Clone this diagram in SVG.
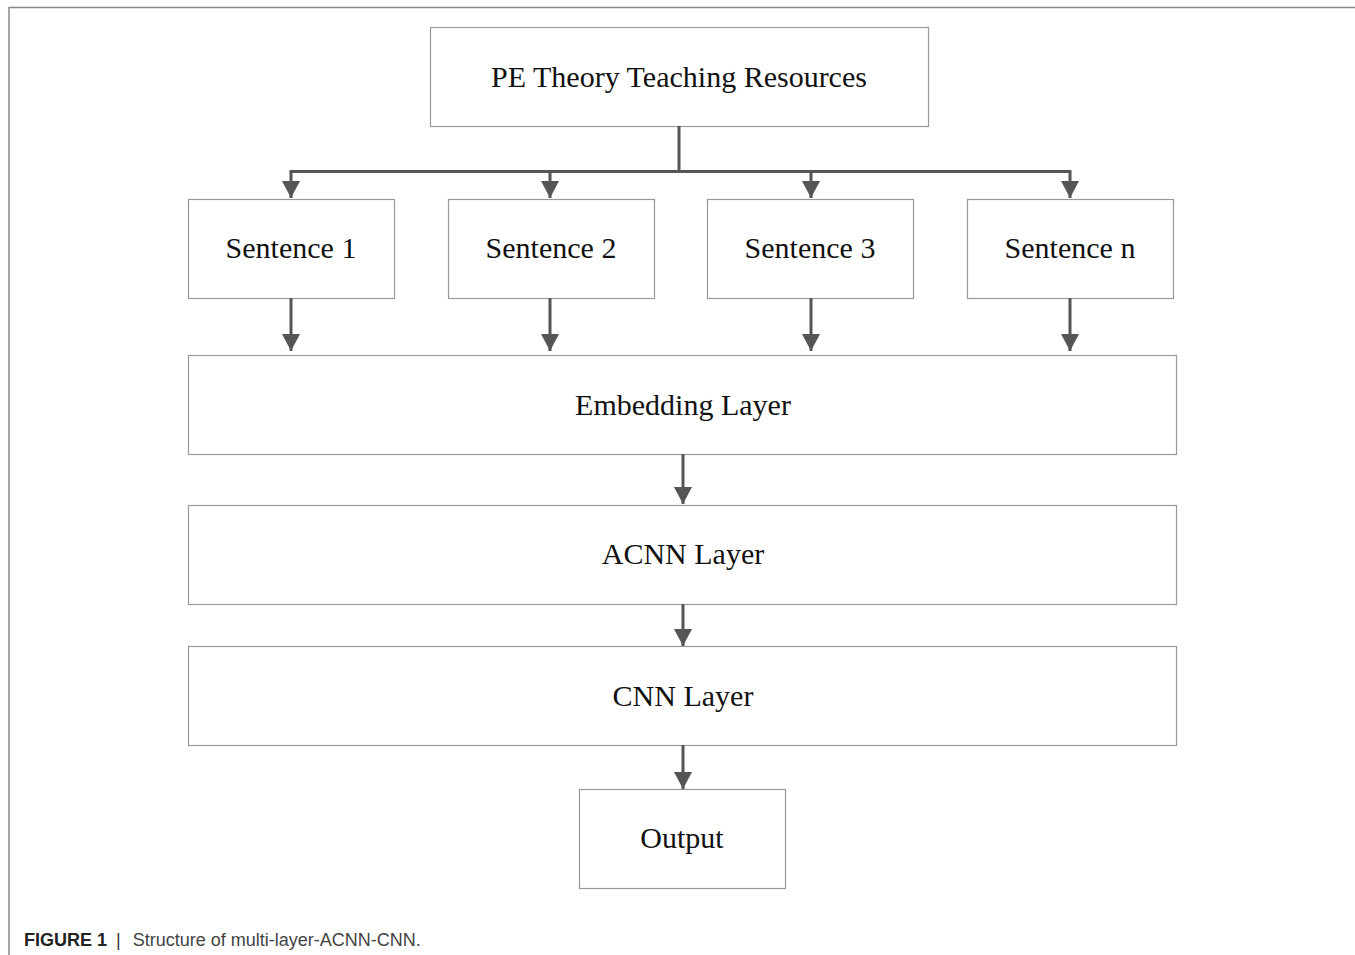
<svg xmlns="http://www.w3.org/2000/svg" width="1355" height="955" viewBox="0 0 1355 955">
<defs>
<style>
.box{fill:#fff;stroke:#999;stroke-width:1.2}
.lbl{font-family:"Liberation Serif","Times New Roman",serif;font-size:30px;fill:#111;text-anchor:middle;dominant-baseline:central}
.con{fill:none;stroke:#555;stroke-width:3}
.frame{fill:none;stroke:#888;stroke-width:1.5}
</style>
<marker id="ah" viewBox="0 0 17 18" refX="17" refY="9" markerWidth="17" markerHeight="18" markerUnits="userSpaceOnUse" orient="auto">
<path d="M0,0 L17,9 L0,18 Z" fill="#555"/>
</marker>
</defs>
<rect width="1355" height="955" fill="#fff"/>
<path class="frame" d="M9,955 V7.5 H1355"/>
<g id="n-pe"><rect class="box" x="430.5" y="27.5" width="498" height="99"/><text class="lbl" x="679" y="76">PE Theory Teaching Resources</text></g>
<g id="n-s1"><rect class="box" x="188.5" y="199.5" width="206" height="99"/><text class="lbl" x="291" y="247">Sentence 1</text></g>
<g id="n-s2"><rect class="box" x="448.5" y="199.5" width="206" height="99"/><text class="lbl" x="551" y="247">Sentence 2</text></g>
<g id="n-s3"><rect class="box" x="707.5" y="199.5" width="206" height="99"/><text class="lbl" x="810" y="247">Sentence 3</text></g>
<g id="n-sn"><rect class="box" x="967.5" y="199.5" width="206" height="99"/><text class="lbl" x="1070" y="247">Sentence n</text></g>
<g id="n-emb"><rect class="box" x="188.5" y="355.5" width="988" height="99"/><text class="lbl" x="683" y="404">Embedding Layer</text></g>
<g id="n-acnn"><rect class="box" x="188.5" y="505.5" width="988" height="99"/><text class="lbl" x="683" y="553">ACNN Layer</text></g>
<g id="n-cnn"><rect class="box" x="188.5" y="646.5" width="988" height="99"/><text class="lbl" x="683" y="695">CNN Layer</text></g>
<g id="n-out"><rect class="box" x="579.5" y="789.5" width="206" height="99"/><text class="lbl" x="682" y="837">Output</text></g>
<g id="connectors">
<path class="con" d="M679,126 V171.5"/>
<path class="con" d="M291,171.5 H1070"/>
<path class="con" d="M291,170 V198" marker-end="url(#ah)"/>
<path class="con" d="M550,170 V198" marker-end="url(#ah)"/>
<path class="con" d="M811,170 V198" marker-end="url(#ah)"/>
<path class="con" d="M1070,170 V198" marker-end="url(#ah)"/>
<path class="con" d="M291,298 V351" marker-end="url(#ah)"/>
<path class="con" d="M550,298 V351" marker-end="url(#ah)"/>
<path class="con" d="M811,298 V351" marker-end="url(#ah)"/>
<path class="con" d="M1070,298 V351" marker-end="url(#ah)"/>
<path class="con" d="M683,454 V504" marker-end="url(#ah)"/>
<path class="con" d="M683,604 V646" marker-end="url(#ah)"/>
<path class="con" d="M683,745 V789" marker-end="url(#ah)"/>
</g>
<text x="24" y="946" font-family="Liberation Sans, Arial, sans-serif" font-size="18" fill="#222"><tspan font-weight="bold">FIGURE 1</tspan><tspan dx="9" fill="#333">|</tspan><tspan dx="12" fill="#444">Structure of multi-layer-ACNN-CNN.</tspan></text>
</svg>
